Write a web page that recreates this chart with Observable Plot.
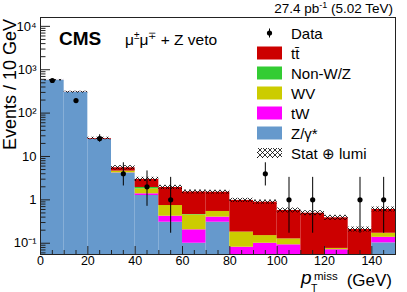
<!DOCTYPE html>
<html><head><meta charset="utf-8">
<script src="https://cdn.jsdelivr.net/npm/d3@7"></script>
<script src="https://cdn.jsdelivr.net/npm/@observablehq/plot@0.6"></script>
<style>
body{margin:0;background:#fff}
svg{font-family:"Liberation Sans",Arial,sans-serif}
</style>
</head><body><div id="chart"></div>
<script>
// ---- data ----
const binLow = [0, 10, 20, 30, 40, 50, 60, 70, 80, 90, 100, 110, 120, 130, 140];
const binWidth = 10;
const zgamma = [572, 302, 25, 4.14, 1.26, 0.305, 0.1, 0.305, 0, 0, 0, 0, 0, 0, 0.102];
const tW     = [0, 0, 0, 0.05, 0.12, 0.115, 0.104, 0.095, 0.081, 0.1, 0.092, 0, 0.071, 0, 0.035];
const WV     = [0, 0, 0, 0.41, 0.42, 0.32, 0.246, 0.14, 0.1, 0.05, 0.034, 0, 0.005, 0, 0.033];
const nonWZ  = [0, 0, 0, 0, 0.13, 0, 0.01, 0, 0, 0, 0, 0, 0, 0, 0];
const ttbar  = [2, 2, 1.0, 0.9, 1.03, 1.19, 1.06, 0.96, 0.79, 0.735, 0.443, 0.493, 0.31, 0.207, 0.43];
const statUnc = [0.04, 0.05, 0.07, 0.12, 0.12, 0.12, 0.11, 0.11, 0.12, 0.12, 0.14, 0.14, 0.14, 0.14, 0.14];
const dataCount = [565, 195, 26, 4, 2, 1, 0, 0, 0, 4, 1, 1, 0, 1, 1];
const dataErrLow  = [541, 181, 21.2, 2.09, 0.71, 0.17, 0, 0, 0, 2.09, 0.17, 0.17, 0, 0.17, 0.17];
const dataErrHigh = [589, 210, 31.7, 7.16, 4.64, 3.30, 0, 0, 0, 7.16, 3.30, 3.30, 0, 3.30, 3.30];
const xTicks = [0, 20, 40, 60, 80, 100, 120, 140];
const xMinorTicks = [5, 10, 15, 25, 30, 35, 45, 50, 55, 65, 70, 75, 85, 90, 95, 105, 110, 115, 125, 130, 135, 145];
const yTicks = [0.1, 1, 10, 100, 1000, 10000];
const yTickLabels = ["10\u207B\u00B9", "1", "10", "10\u00B2", "10\u00B3", "10\u2074"];
const processNames = ["Z/\u03B3*", "tW", "WV", "Non-W/Z", "tt\u0304"];
const processColors = ["#6699cc", "#ff00ff", "#cccc00", "#33cc33", "#cc0000"];
const processValues = [zgamma, tW, WV, nonWZ, ttbar];

// ---- build stack ----
const stackRows = [];
const totals = [];
binLow.forEach((x, i) => {
  let cum = 0;
  processValues.forEach((vals, p) => {
    const lo = cum;
    cum += vals[i];
    stackRows.push({x1: x, x2: x + binWidth, y1: Math.max(lo, 1e-3), y2: Math.max(cum, 1e-3), fill: processColors[p]});
  });
  totals.push({x1: x, x2: x + binWidth, total: cum, lo: cum / (1 + statUnc[i]), hi: cum * (1 + statUnc[i])});
});
const points = binLow.map((x, i) => ({x: x + binWidth / 2, y: dataCount[i], lo: dataErrLow[i], hi: dataErrHigh[i]})).filter(d => d.y > 0);

const yMinor = [];
for (let k = -2; k <= 4; k++) for (let m = 2; m <= 9; m++) { const v = m * Math.pow(10, k); if (v > 0.055 && v < 16000) yMinor.push(v); }

const W = 407, H = 292, mL = 40, mR = 12, mT = 17, mB = 38;
const pw = W - mL - mR, ph = H - mT - mB;

const plot = Plot.plot({
  width: W, height: H,
  marginLeft: mL, marginRight: mR, marginTop: mT, marginBottom: mB,
  style: {fontFamily: "Liberation Sans, Arial, sans-serif", background: "#fff"},
  x: {domain: [0, 150]},
  y: {type: "log", domain: [0.055, 16000], clamp: true},
  marks: [
    Plot.rect(stackRows, {x1: "x1", x2: "x2", y1: "y1", y2: "y2", fill: "fill"}),
    Plot.rect(totals, {x1: "x1", x2: "x2", y1: "lo", y2: "hi", fill: "url(#hatch)"}),
    Plot.ruleX(points, {x: "x", y1: "lo", y2: "hi", stroke: "black", strokeWidth: 1}),
    Plot.dot(points, {x: "x", y: "y", r: 2.6, fill: "black", stroke: "none"}),
    Plot.tickY(yTicks, {y: d => d, insetRight: pw - 10, stroke: "#222"}),
    Plot.tickY(yMinor, {y: d => d, insetRight: pw - 5.5, stroke: "#222"}),
    Plot.tickX(xTicks, {x: d => d, insetTop: ph - 8, stroke: "#222"}),
    Plot.tickX(xMinorTicks, {x: d => d, insetTop: ph - 4, stroke: "#222"}),
    Plot.axisX(xTicks, {tickSize: 0, tickPadding: 2, fontSize: 12.5, label: null, tickFormat: d => String(d)}),
    Plot.axisY(yTicks, {tickSize: 0, tickPadding: 4, fontSize: 13, label: null, tickFormat: (d) => yTickLabels[yTicks.indexOf(d)]}),
    Plot.frame({stroke: "#222"})
  ]
});

const svg = d3.select(plot);
const defs = svg.insert("defs", ":first-child");
const pat = defs.append("pattern").attr("id", "hatch").attr("patternUnits", "userSpaceOnUse").attr("width", 5).attr("height", 5);
pat.append("path").attr("d", "M0,0L5,5M5,0L0,5").attr("stroke", "#000").attr("stroke-width", 0.8);

const txt = (x, y, size) => svg.append("text").attr("x", x).attr("y", y).attr("font-size", size).attr("text-anchor", "start").attr("fill", "#000");

// header texts
const t1 = txt(393, 13, 13.5).attr("text-anchor", "end");
t1.append("tspan").text("27.4 pb");
t1.append("tspan").attr("dy", -5).attr("font-size", 9).text("-1");
t1.append("tspan").attr("dy", 5).text(" (5.02 TeV)");

txt(59, 45, 19).attr("font-weight", "bold").text("CMS");
const ch = txt(125, 45, 15.5);
ch.append("tspan").text("\u03BC");
ch.append("tspan").attr("dy", -6).attr("font-size", 10).text("\u00B1");
ch.append("tspan").attr("dy", 6).text("\u03BC");
ch.append("tspan").attr("dy", -6).attr("font-size", 10).text("\u2213");
ch.append("tspan").attr("dy", 6).text(" + Z veto");

// axis titles
svg.append("text").attr("transform", "translate(16,19) rotate(-90)").attr("text-anchor", "end").attr("font-size", 18).text("Events / 10 GeV");
txt(392, 285.5, 17).attr("text-anchor", "end").text("(GeV)");
txt(301, 284, 19).attr("font-style", "italic").text("p");
txt(314, 280, 11.5).text("miss");
txt(311, 291.5, 10.5).text("T");

// legend
const lx = 257, lw = 25, tx = 291, row0 = 33, dyRow = 20;
svg.append("line").attr("x1", lx + 12.5).attr("x2", lx + 12.5).attr("y1", row0 - 4.5).attr("y2", row0 + 4.5).attr("stroke", "#000");
svg.append("circle").attr("cx", lx + 12.5).attr("cy", row0).attr("r", 2.6).attr("fill", "#000");
txt(tx, row0 + 5.5, 15).text("Data");
const legendOrder = [4, 3, 2, 1, 0];
legendOrder.forEach((p, k) => {
  const cy = row0 + dyRow * (k + 1);
  svg.append("rect").attr("x", lx).attr("y", cy - 6.5).attr("width", lw).attr("height", 13).attr("fill", processColors[p]);
  txt(tx, cy + 5.5, 15).text(processNames[p]);
});
const cyS = row0 + dyRow * 6;
svg.append("rect").attr("x", lx).attr("y", cyS - 5).attr("width", lw).attr("height", 10).attr("fill", "url(#hatch)");
txt(tx, cyS + 5.5, 15).text("Stat \u2295 lumi");

document.getElementById("chart").appendChild(plot);
</script>
</body></html>
